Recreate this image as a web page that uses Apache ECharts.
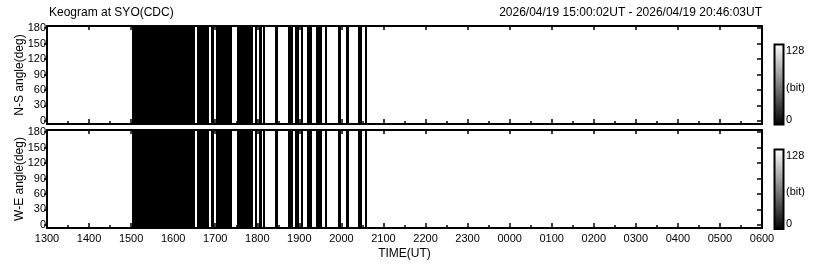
<!DOCTYPE html>
<html><head><meta charset="utf-8">
<script src="https://cdn.jsdelivr.net/npm/echarts@6/dist/echarts.min.js"></script>
<style>html,body{margin:0;padding:0;background:#fff}#c{width:820px;height:265px}</style>
</head><body><div id="c"></div>
<script>
// time in hours from 13 (24 = 00:00 next day)
const xTicks = [13,14,15,16,17,18,19,20,21,22,23,24,25,26,27,28,29,30];
const yTicks = [0,30,60,90,120,150,180];
// dark (0 bit) intervals [start, end] in hours
const darkNS = [
  [15.01,16.53],[16.57,16.86],[16.89,16.98],[17.01,17.41],[17.51,17.89],
  [17.95,18.00],[18.05,18.10],[18.13,18.18],[18.43,18.49],[18.74,18.86],
  [18.90,18.99],[19.05,19.09],[19.17,19.29],[19.40,19.53],[19.61,19.65],
  [19.93,20.00],[20.11,20.17],[20.40,20.48],[20.56,20.60]
];
const darkWE = darkNS;
const titleLeft = 'Keogram at SYO(CDC)';
const titleRight = '2026/04/19 15:00:02UT - 2026/04/19 20:46:03UT';
const cbarLabels = ['128','(bit)','0'];

const FONT = 'Liberation Sans';
const chart = echarts.init(document.getElementById('c'));
function fmtX(v){ const h = Math.round(v)%24; return (h<10?'0':'')+h+'00'; }
const lineStyle = {color:'#000', width:2};
function xAx(grid, showLabel){
  return [{
    type:'value', gridIndex:grid, position:'bottom', min:13, max:30, interval:1,
    axisLine:{show:true, onZero:false, lineStyle},
    axisTick:{show:true, inside:true, length:5, lineStyle:{color:'#000', width:1.5}},
    minorTick:{show:true, splitNumber:2, length:3, lineStyle:{color:'#000', width:1.5}},
    axisLabel:{show:showLabel, formatter:fmtX, color:'#000', fontFamily:FONT, fontSize:11, margin:5},
    splitLine:{show:false},
    name: showLabel ? 'TIME(UT)' : '', nameLocation:'middle', nameGap:20,
    nameTextStyle:{color:'#000', fontFamily:FONT, fontSize:12}
  },{
    type:'value', gridIndex:grid, position:'top', min:13, max:30, interval:1,
    axisLine:{show:true, onZero:false, lineStyle},
    axisTick:{show:true, inside:true, length:4, lineStyle:{color:'#000', width:1.5}},
    axisLabel:{show:false}, splitLine:{show:false}
  }];
}
function yAx(grid, name){
  return [{
    type:'value', gridIndex:grid, position:'left', min:-6, max:184,
    axisLine:{show:true, onZero:false, lineStyle},
    axisTick:{show:true, inside:false, length:3, customValues:yTicks, lineStyle:{color:'#000', width:1.5}},
    axisLabel:{show:true, customValues:yTicks, color:'#000', fontFamily:FONT, fontSize:11, margin:1},
    splitLine:{show:false},
    name:name, nameLocation:'middle', nameGap:21, nameRotate:90, nameMoveOverlap:false,
    nameTextStyle:{color:'#000', fontFamily:FONT, fontSize:12}
  },{
    type:'value', gridIndex:grid, position:'right', min:-6, max:184,
    axisLine:{show:true, onZero:false, lineStyle},
    axisTick:{show:true, inside:true, length:5, customValues:yTicks, lineStyle:{color:'#000', width:1.5}},
    axisLabel:{show:false}, splitLine:{show:false}
  }];
}
function darkSeries(xi, yi, data){
  return {
    type:'custom', xAxisIndex:xi, yAxisIndex:yi, data:data,
    encode:{x:[0,1]},
    renderItem:function(params, api){
      const p0 = api.coord([api.value(0), 184]);
      const p1 = api.coord([api.value(1), -6]);
      const x0 = Math.round(p0[0]), x1 = Math.max(x0+1, Math.round(p1[0]));
      const y0 = Math.round(p0[1]), y1 = Math.round(p1[1]);
      return {type:'rect', shape:{x:x0, y:y0, width:x1-x0, height:y1-y0},
              style:{fill:'#000000'}, silent:true};
    },
    z:1
  };
}
function cbar(top, h){
  const x = 774.5;
  return [
    {type:'rect', shape:{x:x, y:top, width:9, height:h},
     style:{fill:new echarts.graphic.LinearGradient(0,0,0,1,[{offset:0,color:'#fff'},{offset:1,color:'#000'}]), stroke:'#000', lineWidth:2}},
    {type:'text', x:786, y:top+6, style:{text:cbarLabels[0], fill:'#000', font:'11px '+FONT, textVerticalAlign:'middle'}},
    {type:'text', x:786, y:top+h/2+3, style:{text:cbarLabels[1], fill:'#000', font:'11px '+FONT, textVerticalAlign:'middle'}},
    {type:'text', x:786, y:top+h-5, style:{text:cbarLabels[2], fill:'#000', font:'11px '+FONT, textVerticalAlign:'middle'}}
  ];
}
chart.setOption({
  animation:false,
  backgroundColor:'#fff',
  grid:[{left:47, right:58, top:26, height:98, outerBoundsMode:'none', containLabel:false},
        {left:47, right:58, top:130, height:98, outerBoundsMode:'none', containLabel:false}],
  xAxis:[].concat(xAx(0,false), xAx(1,true)),
  yAxis:[].concat(yAx(0,'N-S angle(deg)'), yAx(1,'W-E angle(deg)')),
  series:[darkSeries(0,0,darkNS), darkSeries(2,2,darkWE)],
  graphic:[
    {type:'text', left:49, top:7, style:{text:titleLeft, fill:'#000', font:'12px '+FONT}},
    {type:'text', right:58, top:7, style:{text:titleRight, fill:'#000', font:'12px '+FONT}}
  ].concat(cbar(44.5,80), cbar(149.5,79.5))
});
</script></body></html>
